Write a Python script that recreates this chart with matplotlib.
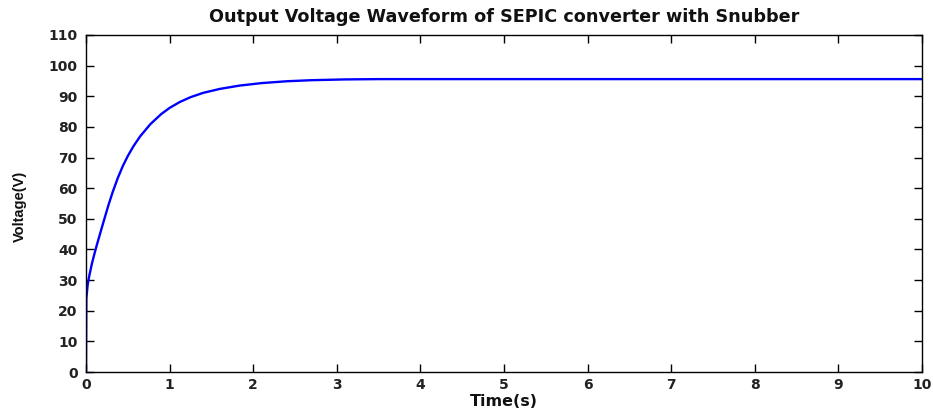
import matplotlib
matplotlib.use("Agg")
import matplotlib.pyplot as plt
from matplotlib import font_manager

# Data
time_s = [0.0, 0.004, 0.02, 0.04, 0.07, 0.10, 0.13, 0.17, 0.22, 0.27, 0.32,
          0.38, 0.44, 0.50, 0.57, 0.65, 0.77, 0.90, 1.00, 1.12, 1.25, 1.40,
          1.60, 1.84, 2.10, 2.40, 2.70, 3.10, 3.50, 5.00, 7.50, 10.0]
voltage_v = [0.0, 24.0, 28.5, 31.5, 35.3, 38.5, 41.5, 45.3, 50.0, 54.6, 58.8,
             63.3, 67.2, 70.5, 73.8, 77.0, 80.9, 84.2, 86.2, 88.1, 89.7, 91.1,
             92.4, 93.5, 94.3, 94.9, 95.25, 95.5, 95.6, 95.6, 95.6, 95.6]
x_ticks = list(range(0, 11))
y_ticks = list(range(0, 111, 10))

title_text = "Output Voltage Waveform of SEPIC converter with Snubber"
xlabel_text = "Time(s)"
ylabel_text = "Voltage(V)"

names = {f.name for f in font_manager.fontManager.ttflist}
if "Liberation Sans Narrow" in names:
    ylab_family, ylab_size, ylab_weight = "Liberation Sans Narrow", 13, "normal"
else:
    ylab_family, ylab_size, ylab_weight = "Liberation Sans", 10.5, "bold"

plt.rcParams["font.family"] = ["DejaVu Sans"]

fig = plt.figure(figsize=(9.33, 4.13), dpi=100)
ax = fig.add_axes([86/933, 1-372/413, (922-86)/933, (372-35)/413])

ax.plot(time_s, voltage_v, color="#0000ff", linewidth=1.7)

ax.set_xlim(0, 10)
ax.set_ylim(0, 110)
ax.set_xticks(x_ticks)
ax.set_yticks(y_ticks)
ax.tick_params(direction="in", top=True, right=True, length=5.5, width=1.0,
               colors="black")
ax.tick_params(axis="y", pad=6)
ax.tick_params(axis="x", pad=4)
for lab in ax.get_xticklabels() + ax.get_yticklabels():
    lab.set_fontsize(10)
    lab.set_fontweight("bold")
    lab.set_color("#222222")
for s in ax.spines.values():
    s.set_linewidth(1.0)
    s.set_color("black")

ax.set_title(title_text, fontsize=12.7, fontweight="bold", pad=9, color="#111111")
ax.set_xlabel(xlabel_text, fontsize=11.5, fontweight="bold", color="#111111")
ax.xaxis.set_label_coords(0.5, -0.066)
ax.set_ylabel(ylabel_text, fontsize=ylab_size, family=[ylab_family, "DejaVu Sans"],
              fontweight=ylab_weight, color="#111111")
ax.yaxis.set_label_coords(-(86-27)/836, 0.49)

fig.savefig("out.png", dpi=100)
